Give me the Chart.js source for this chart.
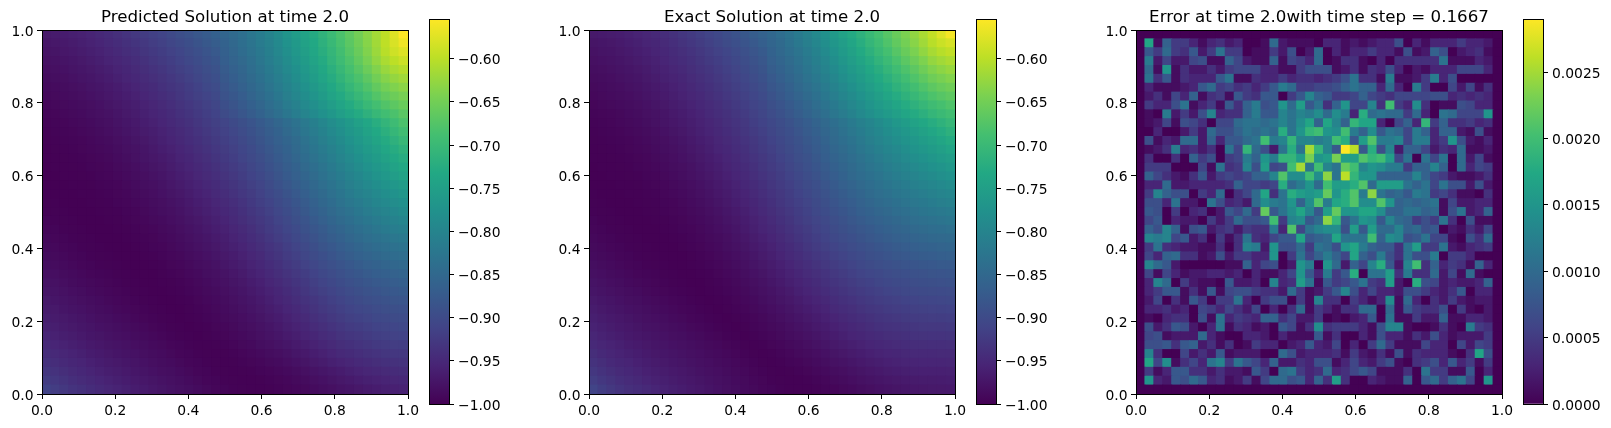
<!DOCTYPE html>
<html><head><meta charset="utf-8">
<script src="https://cdn.jsdelivr.net/npm/chart.js@4/dist/chart.umd.min.js"></script>
<style>
html,body{margin:0;padding:0;background:#fff;width:1611px;height:428px;overflow:hidden}
canvas{position:absolute;top:0}
</style></head><body>
<script>
// Values. Predicted/exact are thousandths above -1; error is in units of 1e-4.
const predictedRows = [
[30,33,35,38,41,45,50,55,60,66,72,78,84,90,97,105,112,120,128,136,144,153,163,174,186,198,212,228,244,258,272,287,302,318,334,350,367,384,402,424,446],
[26,29,31,34,38,42,46,51,56,61,67,73,79,85,92,99,106,114,122,130,140,150,161,172,183,195,209,224,239,254,268,283,298,315,331,348,365,383,402,420,436],
[23,25,28,31,34,38,42,47,52,57,62,68,74,80,86,93,100,108,116,124,136,146,157,168,179,191,205,219,234,249,263,278,293,309,326,343,361,379,398,413,424],
[20,22,24,27,30,34,38,43,47,52,57,63,69,75,81,88,95,103,110,118,132,142,152,163,175,187,200,214,229,243,257,272,288,304,320,336,354,372,389,401,411],
[17,19,21,24,27,30,34,38,43,48,53,58,64,70,76,83,90,97,105,113,127,137,147,158,170,182,195,208,222,236,251,266,281,297,313,328,344,361,377,388,396],
[14,16,18,21,24,27,31,35,39,44,49,54,60,65,71,78,85,92,100,108,122,132,142,153,165,177,189,202,216,230,244,259,274,289,304,318,333,349,364,374,382],
[12,13,15,18,20,24,27,31,35,40,45,50,55,61,67,73,80,87,95,102,117,127,137,148,159,171,183,196,209,223,237,251,266,280,294,308,322,337,351,360,368],
[9,11,13,15,18,21,24,28,32,36,41,46,51,57,63,69,76,83,90,97,112,121,131,142,153,165,177,190,203,216,229,243,257,270,284,297,310,324,337,345,354],
[7,9,11,13,15,18,21,25,29,33,37,42,47,53,59,65,71,78,85,92,106,115,125,136,147,158,170,183,195,208,220,233,246,259,272,285,298,311,323,332,342],
[5,7,9,11,13,16,19,22,26,30,34,39,44,49,55,61,67,74,81,88,100,109,119,129,140,151,163,175,187,199,211,223,235,248,260,272,284,296,308,318,330],
[4,5,7,9,11,13,16,19,23,27,31,36,41,46,51,57,63,70,76,83,91,99,107,116,125,135,146,157,168,180,191,203,215,227,239,252,264,277,291,304,318],
[3,4,5,7,9,11,14,17,20,24,28,33,37,42,48,53,59,66,72,79,86,94,102,111,120,130,140,151,162,174,185,196,208,220,232,243,256,268,281,294,307],
[2,3,4,5,7,9,12,14,18,21,25,29,34,39,44,50,56,62,68,75,82,90,98,106,115,125,135,145,156,168,179,190,201,213,224,236,248,260,272,284,296],
[1,2,3,4,6,8,10,12,15,19,22,26,31,36,41,46,52,58,64,71,78,85,93,101,110,120,130,140,151,162,173,184,195,206,217,229,240,251,263,274,285],
[1,1,2,3,4,6,8,10,13,16,20,24,28,32,37,43,48,54,60,67,74,81,89,97,105,115,125,135,146,157,167,178,189,199,210,221,232,243,254,265,275],
[0,1,1,2,3,5,6,8,11,14,17,21,25,29,34,39,45,50,56,63,70,77,84,92,101,110,120,130,140,151,161,172,182,193,203,214,224,235,245,255,265],
[0,0,1,1,2,3,5,7,9,12,15,18,22,26,31,36,41,47,53,59,65,72,80,88,96,105,115,125,135,145,156,166,176,186,196,206,216,226,236,246,255],
[0,0,0,1,1,2,4,5,7,10,13,16,19,23,28,33,38,43,49,55,61,68,75,83,91,100,110,120,130,140,150,160,170,180,190,199,208,217,226,235,243],
[1,0,0,0,1,1,3,4,6,8,11,14,17,21,25,29,34,40,45,51,57,64,71,78,86,95,104,114,124,134,144,154,164,173,183,192,200,209,217,225,232],
[2,1,0,0,0,1,2,3,5,7,9,12,15,18,22,26,31,36,41,47,53,59,66,74,82,90,99,108,118,128,138,148,157,167,176,184,193,201,208,215,222],
[3,2,1,0,0,0,1,2,3,5,7,10,13,16,19,23,28,33,38,43,49,55,62,69,77,85,94,103,113,122,132,141,151,160,168,177,185,193,200,206,212],
[5,3,2,1,0,0,0,1,2,4,6,8,11,13,17,20,25,29,34,39,45,51,58,65,72,80,89,98,107,116,125,135,144,153,161,169,177,184,191,197,202],
[7,5,3,2,1,0,0,0,1,2,4,6,8,11,14,18,22,26,31,36,41,47,53,60,68,76,84,93,101,110,119,128,137,145,153,161,168,175,182,187,191],
[9,7,5,3,2,1,0,0,0,1,3,4,6,9,12,15,19,23,27,32,37,43,49,56,63,71,79,87,96,104,113,122,130,138,146,153,160,166,172,176,180],
[11,9,7,5,3,2,1,0,0,0,1,3,5,7,10,13,16,20,24,29,34,39,45,51,58,66,73,81,90,98,106,115,123,131,138,145,151,157,162,166,170],
[14,11,9,7,5,3,2,1,0,0,0,1,3,5,8,10,14,17,21,26,30,35,41,47,53,61,68,76,84,92,100,108,116,124,130,137,143,148,153,157,160],
[16,14,12,9,7,5,3,2,1,0,0,0,1,3,6,8,11,15,18,22,27,32,37,43,49,56,63,71,78,86,94,102,109,116,123,129,135,140,144,148,151],
[19,17,14,12,9,7,5,4,2,1,0,0,0,2,4,6,9,12,16,19,23,28,33,39,45,51,58,65,73,80,88,95,102,109,116,121,127,132,136,139,142],
[23,20,17,14,12,10,8,6,4,2,1,0,0,1,2,4,7,10,13,17,20,25,29,35,40,47,53,60,67,74,82,89,96,103,109,114,119,124,127,131,133],
[26,23,20,17,15,12,10,8,6,4,2,1,0,0,1,3,5,8,11,14,18,22,26,31,36,42,48,55,62,69,76,83,90,96,102,107,112,116,120,123,125],
[30,26,23,20,18,15,13,10,8,6,4,2,1,0,0,1,3,6,9,12,15,19,23,27,32,38,44,50,57,64,70,77,84,90,96,100,105,109,112,115,117],
[33,30,26,23,21,18,15,13,10,8,6,4,2,1,0,0,2,4,7,10,13,16,20,24,29,34,39,46,52,59,65,72,78,84,89,94,98,102,105,107,109],
[37,33,30,27,24,21,18,16,13,11,8,6,4,2,1,0,1,3,5,8,11,14,17,21,25,30,35,41,47,53,60,66,72,78,83,87,91,95,98,100,102],
[41,37,33,30,27,24,21,19,16,14,11,9,6,4,2,1,0,1,3,6,8,11,15,18,22,26,31,37,42,48,54,60,66,71,76,80,84,88,91,93,95],
[46,41,37,34,31,27,25,22,19,17,14,12,9,7,4,2,1,0,2,4,6,9,12,15,19,23,27,32,37,43,48,54,59,65,69,73,77,81,84,86,88],
[51,46,42,38,35,31,28,25,23,20,17,15,12,10,7,5,3,1,1,2,4,7,10,12,16,19,23,27,32,37,42,48,53,58,62,66,70,74,77,79,80],
[57,51,47,43,39,35,32,29,26,23,21,18,15,13,10,7,5,3,2,1,2,4,7,9,12,15,18,22,27,31,36,41,46,51,55,59,63,66,69,71,72],
[63,57,52,48,44,40,36,33,30,27,24,21,18,15,13,10,7,5,3,2,1,2,4,6,8,11,13,17,21,25,30,34,39,43,47,51,55,58,61,63,65],
[70,64,58,53,49,45,41,37,34,31,27,24,21,18,16,13,10,7,5,3,2,1,2,3,5,7,9,12,15,19,23,27,31,35,39,43,47,50,53,55,57],
[78,71,65,59,54,50,46,42,38,35,31,28,25,22,19,16,13,10,7,5,3,2,1,1,2,4,6,8,11,14,18,21,25,29,32,36,39,42,45,47,49],
[88,79,72,66,61,56,51,47,43,39,35,32,28,25,22,19,16,13,10,7,5,3,2,1,1,2,4,6,8,10,13,16,19,23,26,29,32,35,38,40,42]
];
const exactRows = [
[30,32,34,36,39,43,47,52,57,63,69,75,82,89,96,104,113,121,130,139,148,158,170,182,194,208,222,238,255,270,284,298,312,327,342,357,372,388,404,422,440],
[25,27,29,32,36,39,44,48,53,59,65,71,78,85,92,100,108,116,124,133,144,154,166,178,190,204,218,232,247,262,277,292,306,321,336,351,366,382,398,410,418],
[22,24,26,29,32,36,40,44,49,55,60,66,73,79,86,93,101,109,117,126,140,150,161,172,184,197,211,225,240,254,269,283,298,312,327,342,357,372,387,397,404],
[19,21,23,26,29,33,37,41,46,51,56,62,68,75,81,88,96,104,112,120,135,145,155,166,178,191,204,218,232,246,260,274,288,302,316,331,345,359,374,383,390],
[16,18,20,23,26,29,33,38,42,47,52,58,64,70,76,84,91,99,107,115,130,140,150,161,173,185,198,211,225,238,251,265,278,292,306,320,333,347,360,369,376],
[14,15,17,20,23,26,30,34,39,43,48,54,60,66,72,79,86,94,102,110,124,134,144,155,167,178,191,204,217,230,243,256,269,282,295,308,321,334,347,355,362],
[11,13,15,17,20,23,27,31,35,40,45,50,56,62,68,75,82,90,97,105,119,128,138,149,160,171,184,196,209,221,234,246,259,272,285,297,309,321,333,341,348],
[9,11,13,15,17,20,24,28,32,37,42,47,52,58,64,71,78,85,93,101,113,122,132,143,154,165,177,189,201,213,225,237,249,261,273,285,296,308,319,327,334],
[7,9,11,13,15,18,21,25,29,34,38,43,49,54,60,67,74,81,89,96,107,116,126,136,147,158,170,181,193,205,216,228,240,251,262,273,284,295,305,313,321],
[5,7,8,10,13,15,19,22,26,31,35,40,45,51,57,63,70,77,85,92,102,110,120,130,141,152,163,174,185,196,208,219,230,241,251,262,272,282,292,300,308],
[4,5,7,9,11,13,16,20,24,28,32,37,42,47,53,60,66,73,81,88,96,104,113,122,131,141,151,161,171,182,192,202,213,223,234,244,255,265,275,285,295],
[3,4,5,7,9,11,14,17,21,25,29,34,39,44,50,56,63,70,77,84,92,100,108,117,127,136,146,156,166,176,186,196,206,216,225,235,245,254,264,273,283],
[2,3,4,5,7,9,12,15,18,22,26,31,36,41,47,53,59,66,73,80,88,96,104,113,122,131,141,151,161,170,180,190,199,208,217,226,235,244,253,262,271],
[1,2,3,4,6,8,10,13,16,19,23,28,33,38,44,49,56,62,69,76,84,92,100,109,118,127,136,146,155,165,174,183,192,201,209,218,226,235,243,251,259],
[1,1,2,3,4,6,8,11,14,17,21,25,30,35,40,46,52,59,66,73,80,88,96,105,113,122,132,141,150,159,168,177,185,194,202,210,217,225,233,240,247],
[0,1,1,2,3,5,7,9,12,15,18,22,27,32,37,43,49,55,62,69,76,84,92,100,109,118,127,136,145,154,162,171,179,187,194,202,209,216,223,229,236],
[0,0,1,1,2,3,5,7,10,13,16,20,24,29,34,40,46,52,59,66,73,80,88,96,104,113,122,131,140,149,157,165,172,180,187,194,200,207,213,219,225],
[0,0,0,1,1,2,4,6,8,11,14,17,21,26,31,36,42,49,55,62,69,76,84,92,100,108,117,126,135,143,151,159,166,173,180,186,192,198,204,209,214],
[1,0,0,0,1,1,3,4,7,9,12,15,19,23,28,33,39,45,52,59,66,73,80,88,96,104,112,121,129,137,145,153,160,166,173,178,184,189,195,199,204],
[2,1,0,0,0,1,2,3,5,7,10,13,16,20,25,30,36,42,48,55,62,69,76,84,91,99,107,116,124,131,139,146,153,159,165,171,176,181,186,190,194],
[3,2,1,0,0,0,1,2,4,6,8,11,14,18,22,27,32,38,45,51,58,65,72,80,87,95,103,111,118,126,133,140,146,152,158,163,168,173,177,180,184],
[5,3,2,1,0,0,0,1,2,4,6,9,12,15,19,24,29,35,41,47,54,61,68,76,83,91,98,105,113,120,127,133,139,145,150,155,160,164,168,171,174],
[7,5,3,2,1,0,0,0,1,3,5,7,10,13,17,21,26,32,38,44,50,57,64,71,78,86,93,100,107,114,120,126,132,138,143,147,151,155,158,161,164],
[9,7,5,3,2,1,0,0,0,1,3,5,8,11,14,18,23,28,34,40,46,53,60,67,74,81,88,95,102,108,114,120,125,130,135,139,143,146,149,152,154],
[11,9,7,5,3,2,1,0,0,0,2,4,6,9,12,16,20,25,31,36,42,49,55,62,69,76,83,89,96,102,108,113,118,123,127,131,134,137,140,142,144],
[13,11,9,7,5,3,2,1,0,0,0,2,4,7,10,13,17,22,27,33,38,44,51,57,64,71,77,84,90,96,101,107,111,116,120,123,126,129,131,133,135],
[16,14,12,9,7,5,3,2,1,0,0,1,3,5,8,11,15,19,24,29,34,40,46,53,59,65,72,78,84,90,95,100,105,109,112,116,118,121,123,125,126],
[19,17,14,12,9,7,5,4,2,1,0,0,1,3,6,9,12,16,21,25,31,36,42,48,54,60,66,72,78,84,89,94,98,102,105,108,111,113,115,116,118],
[23,20,17,15,12,10,8,6,4,2,1,0,0,2,4,7,10,14,18,22,27,32,38,43,49,55,61,67,72,78,83,87,92,95,99,101,104,106,107,109,110],
[26,23,20,18,15,13,10,8,6,4,3,1,0,1,3,5,8,11,15,19,23,28,33,39,44,50,56,61,67,72,77,81,85,89,92,95,97,99,100,101,102],
[30,27,24,21,18,16,13,11,9,7,5,3,1,0,1,3,6,9,12,16,20,25,29,34,40,45,50,56,61,66,71,75,79,82,85,88,90,92,93,94,95],
[34,30,27,24,21,19,16,14,12,9,7,5,3,1,0,2,4,7,10,13,17,21,25,30,35,40,45,51,56,60,65,69,73,76,79,81,83,85,86,87,88],
[38,34,31,28,25,22,19,17,15,12,10,7,5,3,1,0,2,4,7,10,14,18,22,26,30,35,40,45,50,55,59,63,67,70,72,75,77,78,79,80,81],
[42,38,34,31,28,25,22,20,18,15,13,10,8,5,3,1,0,2,5,8,11,14,18,22,26,31,35,40,45,49,53,57,61,64,66,68,70,72,73,73,74],
[47,42,38,35,31,28,26,23,21,18,16,13,11,8,6,3,1,0,3,5,8,11,15,18,22,26,31,35,39,44,48,51,55,58,60,62,64,65,66,66,67],
[52,47,43,39,35,32,29,26,24,21,19,16,14,11,9,6,4,2,1,3,6,8,11,14,18,22,26,30,34,38,42,46,49,52,54,56,57,58,59,59,60],
[58,52,47,43,39,36,32,29,27,24,22,19,17,14,12,9,7,4,2,1,3,5,8,11,14,17,21,25,29,33,36,40,43,46,48,50,51,52,52,53,53],
[64,58,52,48,44,40,36,33,30,27,25,22,19,17,14,12,9,7,4,2,1,3,5,7,10,13,16,20,23,27,31,34,37,40,42,44,45,46,46,46,47],
[71,64,58,53,49,45,40,37,34,31,28,25,22,19,17,14,11,9,6,4,2,1,2,4,6,9,12,15,18,22,25,28,31,34,36,38,39,40,40,40,41],
[79,71,65,59,54,50,45,41,38,34,31,28,25,22,19,16,13,11,8,6,3,2,1,1,3,5,8,11,14,17,20,23,26,28,30,32,33,34,34,35,36],
[90,80,73,66,60,56,51,46,42,38,35,31,28,24,21,18,15,12,10,7,5,3,1,1,1,3,5,7,10,12,15,18,21,23,25,27,28,29,30,30,31]
];
const errorRows = [
[0,0,0,0,0,0,0,0,0,0,0,0,0,0,0,0,0,0,0,0,0,0,0,0,0,0,0,0,0,0,0,0,0,0,0,0,0,0,0,0,0],
[0,17,1,9,5,5,3,1,3,4,2,3,0,0,1,10,2,1,1,1,0,3,3,1,2,1,2,3,3,7,0,3,1,3,3,3,5,3,3,2,0],
[0,8,5,10,5,4,8,2,5,11,5,5,0,1,1,5,2,7,0,2,10,0,3,1,3,3,5,3,3,1,7,1,2,9,7,0,2,3,4,1,0],
[0,12,2,6,2,2,6,7,1,1,9,6,2,1,1,9,1,6,5,3,10,0,1,4,4,1,0,3,0,4,4,4,4,4,11,1,1,1,3,2,0],
[0,10,1,15,1,4,2,2,4,2,5,6,6,6,3,3,1,1,5,7,7,7,1,2,4,1,4,3,7,3,0,2,1,3,3,3,6,6,6,3,0],
[0,11,4,8,1,4,3,3,3,8,11,1,1,4,3,3,5,3,4,4,3,4,5,7,11,4,4,1,12,1,1,2,5,12,3,7,0,0,0,0,0],
[0,3,1,1,1,2,3,8,10,5,6,4,5,3,5,8,12,10,5,5,6,6,7,9,11,9,9,3,10,3,0,12,5,0,0,6,2,6,1,4,0],
[0,2,4,1,6,3,9,1,4,5,1,8,5,4,8,8,0,5,8,13,9,8,5,5,6,9,6,5,4,6,6,6,6,7,7,3,4,3,4,3,0],
[0,5,3,3,7,11,1,3,5,1,8,4,9,12,7,8,15,10,16,8,11,4,9,15,6,6,13,4,20,5,3,14,4,0,1,1,7,6,3,3,0],
[0,1,0,12,2,5,2,7,13,3,4,4,9,12,8,8,13,11,13,12,14,10,14,12,3,18,10,11,10,10,5,10,3,0,11,10,6,6,6,15,0],
[0,1,2,6,1,7,6,4,0,6,6,10,11,11,10,11,13,11,14,17,9,17,13,9,19,17,17,3,0,6,9,3,19,5,9,4,4,5,3,4,0],
[0,0,3,0,0,2,5,2,10,7,7,9,11,10,11,10,18,11,15,19,20,15,14,20,12,9,14,8,11,10,6,12,9,3,9,9,2,1,7,1,0],
[0,7,1,3,2,10,10,2,9,3,8,8,10,11,20,12,13,19,13,13,12,13,20,18,8,16,21,12,12,13,6,12,12,3,5,15,7,2,1,3,0],
[0,1,2,4,12,3,4,2,4,0,11,6,19,10,7,2,11,18,11,25,19,13,8,29,26,8,18,7,13,2,9,9,6,2,4,3,10,1,1,2,0],
[0,4,0,0,4,0,9,5,7,0,5,6,12,9,15,12,19,19,16,23,15,16,23,16,16,21,19,20,16,6,11,0,11,6,11,0,10,2,6,1,0],
[0,5,5,5,0,0,0,6,1,11,4,5,13,7,16,6,7,20,25,11,20,13,11,22,20,13,15,14,12,12,5,9,9,13,9,0,10,3,6,5,0],
[0,9,6,4,2,1,4,8,2,5,6,5,6,9,9,13,21,14,14,20,14,24,11,26,19,15,15,9,9,9,9,13,9,6,5,2,1,1,2,4,0],
[0,3,3,10,2,2,3,3,3,3,4,9,6,6,5,6,18,10,12,15,10,20,16,16,18,21,10,16,16,16,11,9,11,6,11,7,7,2,7,2,0],
[0,5,13,9,7,7,0,5,3,10,0,4,6,10,17,4,11,18,16,15,16,22,15,18,21,12,24,11,9,10,8,12,11,5,6,4,1,1,0,4,0],
[0,7,7,3,11,2,2,0,11,7,3,4,2,10,14,12,11,15,9,14,21,12,17,18,21,14,14,21,15,9,10,9,10,11,1,6,2,2,3,3,0],
[0,8,7,0,5,0,3,4,0,2,8,6,10,5,22,8,11,14,17,13,8,16,22,15,15,17,17,14,9,9,11,11,9,10,1,7,11,2,3,9,0],
[0,6,8,0,3,2,2,0,5,2,5,10,7,7,8,20,5,13,14,8,10,24,19,8,11,15,14,8,13,10,9,5,7,5,11,4,0,7,1,1,0],
[0,9,7,13,9,1,7,8,2,4,5,2,5,4,4,12,3,21,6,11,13,14,14,7,16,8,16,10,10,13,9,10,7,8,0,2,1,4,2,6,0],
[0,13,12,13,6,8,2,4,0,5,1,4,11,4,3,6,8,8,17,8,9,10,17,11,11,11,20,9,14,13,7,8,11,6,6,1,0,7,4,10,0],
[0,5,11,4,3,2,2,1,1,4,0,4,13,12,2,15,7,7,10,5,11,10,7,15,17,12,9,8,8,4,11,16,5,5,11,2,1,3,4,5,0],
[0,6,3,9,10,4,4,1,2,7,2,5,5,3,3,15,0,5,11,6,9,12,9,6,17,9,7,12,7,4,11,7,7,12,0,5,5,3,0,0,0],
[0,13,10,8,2,0,0,0,0,0,1,1,9,3,6,7,0,2,15,12,0,15,10,2,9,6,13,18,8,2,13,20,4,9,3,5,4,1,9,3,0],
[0,6,1,6,3,1,2,2,3,3,2,3,0,3,1,1,3,6,15,8,3,12,5,8,18,0,11,11,16,4,12,4,4,10,2,6,1,10,1,0,0],
[0,3,13,10,0,5,2,1,1,0,8,2,2,3,0,13,3,4,16,11,1,8,5,6,8,11,5,4,16,2,0,18,7,6,2,3,2,2,3,9,0],
[0,3,5,8,8,1,4,1,8,1,6,7,7,5,4,4,2,10,5,1,2,5,8,13,7,3,6,3,3,2,7,7,5,3,2,4,8,0,3,3,0],
[0,2,6,0,4,1,8,5,0,5,5,11,3,0,5,7,7,0,5,1,13,4,4,0,5,3,1,3,14,1,10,3,0,4,2,5,2,1,2,2,0],
[0,3,3,4,2,3,0,6,5,3,6,4,2,6,0,3,0,4,10,1,5,3,1,4,4,10,10,0,10,1,8,5,4,4,7,0,5,1,0,2,0],
[0,1,0,3,4,4,0,7,1,11,3,5,4,3,9,9,4,6,2,2,5,0,1,0,2,3,8,0,11,1,1,5,2,2,9,1,1,3,3,2,0],
[0,7,2,4,8,7,2,0,3,11,1,4,3,1,2,0,8,6,1,4,14,4,5,5,5,3,1,7,13,13,1,0,0,1,4,1,0,12,5,4,0],
[0,6,7,1,2,2,2,10,3,1,0,0,3,3,2,0,3,1,1,1,8,1,4,0,0,3,1,7,3,3,1,4,2,7,3,1,2,2,2,5,0],
[0,7,7,8,4,8,9,2,4,1,4,0,1,5,3,3,0,2,3,8,3,2,6,0,3,0,5,10,5,1,1,1,6,3,3,0,6,2,6,5,0],
[0,13,4,0,0,6,2,4,2,8,1,2,2,2,0,0,10,7,2,3,3,3,4,1,5,2,1,4,1,7,1,4,3,3,3,1,0,4,17,7,0],
[0,17,6,14,1,4,6,3,11,13,5,11,8,6,3,9,2,2,4,3,7,7,1,3,6,3,2,5,7,1,0,4,5,7,3,8,3,5,1,5,0],
[0,5,1,3,8,8,4,4,2,4,2,2,1,8,5,0,10,11,5,3,4,10,3,4,6,8,6,1,1,1,4,0,11,5,5,1,1,8,0,3,0],
[0,15,3,2,8,7,10,8,3,4,1,2,5,1,6,10,10,7,8,3,9,4,16,4,0,0,3,2,1,1,9,0,8,10,5,9,11,6,0,15,0],
[0,0,0,0,0,0,0,0,0,0,0,0,0,0,0,0,0,0,0,0,0,0,0,0,0,0,0,0,0,0,0,0,0,0,0,0,0,0,0,0,0]
];
const titles = ["Predicted Solution at time 2.0","Exact Solution at time 2.0","Error at time 2.0with time step = 0.1667"];
const axisTicks = [0,0.2,0.4,0.6,0.8,1];
const solutionRange = [-1,-0.554];
const errorRange = [0,0.0029];

const viridis = ["#440154","#482475","#414487","#355f8d","#2a788e","#21918c","#22a884","#44bf70","#7ad151","#bddf26","#fde725"];
const hex = h => [1,3,5].map(i => parseInt(h.slice(i,i+2),16));
function colorAt(t){
  t = Math.min(1,Math.max(0,t))*10;
  const i = Math.min(9,Math.floor(t)), f = t-i, a = hex(viridis[i]), b = hex(viridis[i+1]);
  return `rgb(${a.map((v,k)=>Math.round(v+(b[k]-v)*f)).join(",")})`;
}
const FONT = "'DejaVu Sans'";
const TICK_SIZE = 13.89, TITLE_SIZE = 16.67;
Chart.defaults.font.family = FONT;
Chart.defaults.color = "#000";
const framePlugin = {id:"frame",afterDraw(c){
  const a=c.chartArea,x=c.ctx;x.save();x.strokeStyle="#000";x.lineWidth=1;
  x.strokeRect(Math.round(a.left)+.5,Math.round(a.top)+.5,Math.round(a.right-a.left),Math.round(a.bottom-a.top));x.restore();
}};
function canvas(left,width){
  const d=document.createElement("canvas");d.width=width;d.height=428;
  d.style.cssText=`left:${left}px;width:${width}px;height:428px`;document.body.appendChild(d);return d;
}
function heatmap(axLeft,rows,value,range,title){
  const n=rows.length,pts=[],cols=[];
  rows.forEach((row,r)=>row.forEach((k,c)=>{
    const v=value(k);
    pts.push({x:(c+.5)/n,y:1-(r+.5)/n,v});
    cols.push(colorAt((v-range[0])/(range[1]-range[0])));
  }));
  const axis=(fit,offset,pad)=>({type:"linear",min:0,max:1,afterFit:fit,
    afterBuildTicks:s=>{s.ticks=axisTicks.map(value=>({value}));},
    ticks:{font:{size:TICK_SIZE},padding:pad,labelOffset:offset,maxRotation:0,autoSkip:false,callback:v=>Number(v).toFixed(1)},
    grid:{drawOnChartArea:false,color:"#000",tickColor:"#000",tickLength:5,tickWidth:1},border:{color:"#000"}});
  new Chart(canvas(axLeft-42,366+42+20),{type:"scatter",plugins:[framePlugin],
    data:{datasets:[{data:pts,pointStyle:"rect",pointBackgroundColor:cols,pointBorderWidth:0,
      pointRadius:ctx=>(ctx.chart.scales.x.width/n+1)/Math.SQRT2,pointHoverRadius:0}]},
    options:{responsive:false,animation:false,events:[],parsing:false,
      layout:{padding:{left:0,right:20,top:0,bottom:0}},
      plugins:{legend:{display:false},tooltip:{enabled:false},
        title:{display:true,text:title,fullSize:false,color:"#000",font:{size:TITLE_SIZE,weight:"normal"},padding:{top:8,bottom:2}}},
      scales:{x:axis(s=>{s.height=34;},0,4.5),y:axis(s=>{s.width=42;},2,3.5)}}});
}
function colorbar(left,range,step,fmt){
  new Chart(canvas(left,20+68),{type:"bar",plugins:[framePlugin],
    data:{labels:[""],datasets:[{data:[range],barPercentage:1,categoryPercentage:1,borderWidth:0,
      backgroundColor:ctx=>{const a=ctx.chart.chartArea;if(!a)return viridis[0];
        const g=ctx.chart.ctx.createLinearGradient(0,a.bottom,0,a.top);
        viridis.forEach((h,i)=>g.addColorStop(i/10,h));return g;}}]},
    options:{responsive:false,animation:false,events:[],
      layout:{padding:{left:0,right:0,top:19,bottom:24}},
      plugins:{legend:{display:false},tooltip:{enabled:false},title:{display:false}},
      scales:{x:{display:false},
        y:{position:"right",min:range[0],max:range[1],afterFit:s=>{s.width=68;},
          ticks:{stepSize:step,includeBounds:false,autoSkip:false,font:{size:TICK_SIZE},padding:4,labelOffset:2,callback:fmt},
          grid:{drawOnChartArea:false,color:"#000",tickColor:"#000",tickLength:5,tickWidth:1},border:{color:"#000"}}}}});
}
const solution = k => -1+k/1000, errorVal = k => k*1e-4;
heatmap(42,predictedRows,solution,solutionRange,titles[0]);
heatmap(589,exactRows,solution,solutionRange,titles[1]);
heatmap(1136,errorRows,errorVal,errorRange,titles[2]);
const fmtSol=v=>"\u2212"+Math.abs(v).toFixed(2), fmtErr=v=>Number(v).toFixed(4);
colorbar(429,solutionRange,0.05,fmtSol);
colorbar(976,solutionRange,0.05,fmtSol);
colorbar(1523,errorRange,0.0005,fmtErr);
</script>
</body></html>
